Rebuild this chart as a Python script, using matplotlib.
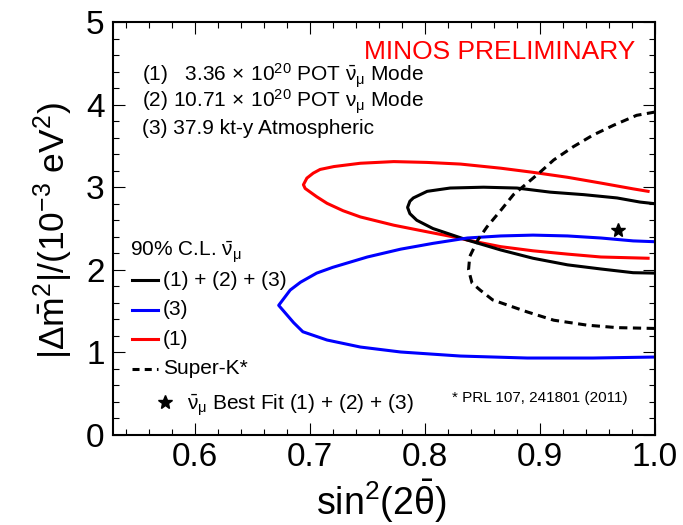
import numpy as np
import matplotlib.pyplot as plt
from matplotlib.ticker import MultipleLocator, FixedLocator, FormatStrFormatter

plt.rcParams['font.family'] = ['Liberation Sans', 'DejaVu Sans']
plt.rcParams['mathtext.fontset'] = 'custom'
plt.rcParams['mathtext.rm'] = 'Liberation Sans'
plt.rcParams['mathtext.it'] = 'Liberation Sans'
plt.rcParams['mathtext.bf'] = 'Liberation Sans:bold'

# 90% C.L. contours (sin^2(2theta), dm^2 in 1e-3 eV^2)
# (1)+(2)+(3) combined
comb_x = [1.0, 0.987, 0.967, 0.938, 0.909, 0.880, 0.851, 0.822, 0.802, 0.790, 0.787,
          0.785, 0.787, 0.793, 0.807, 0.837, 0.866, 0.894, 0.924, 0.953, 0.981, 1.0]
comb_y = [2.80, 2.82, 2.87, 2.91, 2.94, 2.99, 3.00, 2.99, 2.95, 2.87, 2.83,
          2.755, 2.68, 2.60, 2.50, 2.36, 2.24, 2.14, 2.06, 2.01, 1.965, 1.96]
# (3) atmospheric
atm_x = [1.0, 0.981, 0.953, 0.924, 0.894, 0.866, 0.837, 0.807, 0.779, 0.750, 0.720,
         0.706, 0.692, 0.683, 0.673, 0.686, 0.694, 0.715, 0.744, 0.779, 0.831,
         0.889, 0.946, 1.0]
atm_y = [2.34, 2.35, 2.385, 2.41, 2.42, 2.41, 2.385, 2.32, 2.25, 2.155, 2.03,
         1.96, 1.85, 1.755, 1.57, 1.36, 1.25, 1.15, 1.065, 1.005, 0.956,
         0.932, 0.932, 0.944]
# (1) antineutrino beam
beam_x = [0.994, 0.981, 0.953, 0.924, 0.894, 0.866, 0.831, 0.802, 0.773, 0.744, 0.721,
          0.709, 0.703, 0.6975, 0.6945, 0.696, 0.700, 0.706, 0.715, 0.729, 0.744,
          0.773, 0.802, 0.828, 0.837, 0.866, 0.894, 0.924, 0.953, 0.994]
beam_y = [2.95, 2.98, 3.05, 3.12, 3.18, 3.23, 3.28, 3.30, 3.31, 3.29, 3.25,
          3.215, 3.17, 3.11, 3.03, 2.985, 2.945, 2.885, 2.805, 2.715, 2.64,
          2.54, 2.46, 2.39, 2.36, 2.28, 2.23, 2.19, 2.155, 2.14]
# Super-K
sk_x = [1.0, 0.984, 0.964, 0.946, 0.929, 0.912, 0.900, 0.889, 0.877, 0.866, 0.854,
        0.846, 0.839, 0.838, 0.841, 0.848, 0.859, 0.889, 0.912, 0.941, 0.967, 1.0]
sk_y = [3.91, 3.87, 3.75, 3.63, 3.49, 3.33, 3.18, 3.05, 2.91, 2.72, 2.52,
        2.36, 2.16, 2.00, 1.84, 1.755, 1.635, 1.49, 1.39, 1.33, 1.30, 1.29]
best_x = [0.968]
best_y = [2.48]

x_ticks = [0.6, 0.7, 0.8, 0.9, 1.0]
y_ticks = [0, 1, 2, 3, 4, 5]

fig = plt.figure(figsize=(6.83, 5.25), dpi=100)
ax = fig.add_axes([0.1654, 0.1714, 0.7936, 0.7867])

ax.plot(beam_x, beam_y, color='red', lw=2.2)
ax.plot(comb_x, comb_y, color='black', lw=2.2)
ax.plot(atm_x, atm_y, color='blue', lw=2.2)
ax.plot(sk_x, sk_y, color='black', lw=2.2, linestyle=(0, (2.7, 1.8)))
ax.plot(best_x, best_y, marker='*', color='black', ms=10, linestyle='none')

ax.set_xlim(0.529, 1.0)
ax.set_ylim(0, 5)
ax.xaxis.set_major_locator(FixedLocator(x_ticks))
ax.xaxis.set_major_formatter(FormatStrFormatter('%.1f'))
ax.xaxis.set_minor_locator(MultipleLocator(0.02))
ax.yaxis.set_major_locator(FixedLocator(y_ticks))
ax.yaxis.set_minor_locator(MultipleLocator(0.2))
ax.tick_params(which='both', direction='in', top=True, right=True, width=0.8)
ax.tick_params(which='major', length=8.6, labelsize=24)
ax.tick_params(which='minor', length=4.3)
ax.tick_params(axis='x', pad=5)
ax.tick_params(axis='y', pad=6)
for s in ax.spines.values():
    s.set_linewidth(1.5)

ax.set_xlabel(r'sin$^{2}$(2$\bar{\theta}$)', fontsize=27)
ax.set_ylabel(r'|$\Delta\bar{m}^{2}$|/(10$^{-3}$ eV$^{2}$)', fontsize=25.5)
ax.xaxis.set_label_coords(0.494, -0.104)
ax.yaxis.set_label_coords(-0.07, 0.496)

ax.text(0.963, 0.910, 'MINOS PRELIMINARY', color='red', fontsize=19,
        ha='right', va='baseline', transform=ax.transAxes)
info = [r'(1)   3.36$\,\times\,$10$^{20}$ POT $\bar{\nu}_{\mu}$ Mode',
        r'(2) 10.71$\,\times\,$10$^{20}$ POT $\nu_{\mu}$ Mode',
        '(3) 37.9 kt-y Atmospheric']
for i, t in enumerate(info):
    ax.text(0.054, 0.855 - i * 0.063, t, fontsize=15, ha='left', va='baseline',
            transform=ax.transAxes)

# legend
ax.text(0.031, 0.431, r'90% C.L. $\bar{\nu}_{\mu}$', fontsize=15, ha='left',
        va='baseline', transform=ax.transAxes)
entries = [('black', '-', '(1) + (2) + (3)'),
           ('blue', '-', '(3)'),
           ('red', '-', '(1)'),
           ('black', (0, (2.3, 1.7)), 'Super-K*')]
for i, (c, ls, lab) in enumerate(entries):
    yy = 0.375 - i * 0.0715
    ax.plot([0.035, 0.083], [yy, yy], color=c, lw=2.2, linestyle=ls,
            transform=ax.transAxes)
    ax.text(0.092, yy, lab, fontsize=15, ha='left', va='center',
            transform=ax.transAxes)
ax.plot([0.096], [0.080], marker='*', color='black', ms=10, linestyle='none',
        transform=ax.transAxes)
ax.text(0.137, 0.062, r'$\bar{\nu}_{\mu}$ Best Fit (1) + (2) + (3)', fontsize=15,
        ha='left', va='baseline', transform=ax.transAxes)
ax.text(0.950, 0.090, '* PRL 107, 241801 (2011)', fontsize=11, ha='right',
        va='center', transform=ax.transAxes)

plt.savefig('out.png', dpi=100)
